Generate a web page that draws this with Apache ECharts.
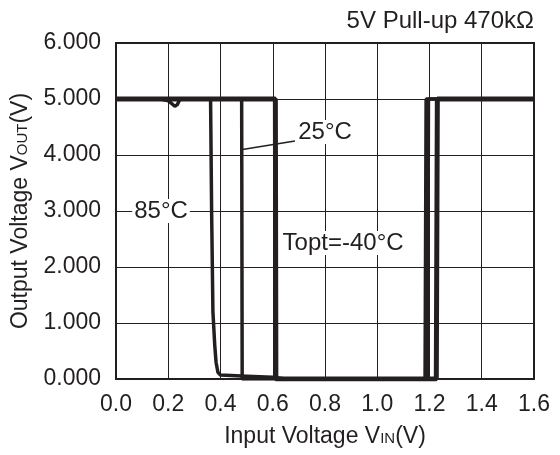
<!DOCTYPE html>
<html><head><meta charset="utf-8">
<script src="https://cdn.jsdelivr.net/npm/echarts@6/dist/echarts.min.js"></script>
<style>html,body{margin:0;padding:0;background:#fff}#c{width:560px;height:455px}</style>
</head><body><div id="c"></div>
<script>
// ---- data ----
const xTickValues = [0.0, 0.2, 0.4, 0.6, 0.8, 1.0, 1.2, 1.4, 1.6];
const yTickValues = [0, 1, 2, 3, 4, 5, 6];
// Output voltage vs input voltage, [VIN, VOUT]
const curve85 = [[0,5],[0.17,5],[0.2,4.97],[0.225,4.87],[0.235,4.9],[0.245,5],[0.362,5],[0.366,3],[0.371,1.2],[0.378,0.6],[0.383,0.3],[0.39,0.12],[0.4,0.07],[0.5,0.05],[0.6,0.03],[0.65,0],[1.183,0],[1.187,5],[1.6,5]];
const curve25 = [[0,5],[0.481,5],[0.483,0],[1.193,0],[1.196,5],[1.6,5]];
const curveM40 = [[0,5],[0.61,5],[0.612,0],[1.226,0],[1.23,5],[1.6,5]];
const seriesNames = ['85°C','25°C','Topt=-40°C'];
const titleText = '5V Pull-up 470kΩ';

const INK = '#231f20';
const FONT = '"Liberation Sans", Arial, sans-serif';

const chart = echarts.init(document.getElementById('c'), null, {renderer:'canvas'});
const option = {
  animation: false,
  backgroundColor: '#fff',
  textStyle: {fontFamily: FONT},
  grid: {left:116, right:26, top:43, bottom:76, show:true, borderColor:INK, borderWidth:2, containLabel:false},
  xAxis: {
    type:'value', min:0, max:1.6, interval:0.2,
    name:'Input Voltage V{s|IN}(V)', nameLocation:'middle', nameGap:46,
    nameTextStyle:{fontSize:23, color:INK, fontFamily:FONT, rich:{s:{fontSize:15, color:INK, fontFamily:FONT, padding:[4,0,0,0]}}},
    axisLine:{show:true, lineStyle:{color:INK, width:2}},
    axisTick:{show:false},
    axisLabel:{fontSize:23, color:INK, margin:14, formatter:v=>v.toFixed(1)},
    splitLine:{show:true, lineStyle:{color:INK, width:1}}
  },
  yAxis: {
    type:'value', min:0, max:6, interval:1,
    name:'Output Voltage V{s|OUT}(V)', nameLocation:'middle', nameGap:84, nameRotate:90,
    nameTextStyle:{fontSize:23, color:INK, fontFamily:FONT, rich:{s:{fontSize:15, color:INK, fontFamily:FONT, padding:[4,0,0,0]}}},
    axisLine:{show:true, lineStyle:{color:INK, width:2}},
    axisTick:{show:false},
    axisLabel:{fontSize:23, color:INK, margin:15, formatter:v=>v.toFixed(3)},
    splitLine:{show:true, lineStyle:{color:INK, width:1}}
  },
  series: [
    {name:seriesNames[0], type:'line', data:curve85, showSymbol:false, symbol:'none', lineStyle:{color:INK, width:3.5}, z:3},
    {name:seriesNames[1], type:'line', data:curve25, showSymbol:false, symbol:'none', lineStyle:{color:INK, width:3.5}, z:3},
    {name:seriesNames[2], type:'line', data:curveM40, showSymbol:false, symbol:'none', lineStyle:{color:INK, width:5}, z:3}
  ]
};
chart.setOption(option);

// annotation anchors (in data coordinates)
const px = p => chart.convertToPixel({gridIndex:0}, p);
const lead25a = px([0.484, 4.1]);
const lead25b = px([0.685, 4.25]);
const t25 = px([0.69, 4.41]);
const t85 = px([0.062, 3.0]);
const tM40 = px([0.63, 2.43]);
const txt = (text, pos, bg) => ({type:'text', x:pos[0], y:pos[1], z:10,
  style:{text:text, fill:INK, font:'24px ' + FONT, textVerticalAlign:'middle', verticalAlign:'middle',
    backgroundColor: bg ? '#fff' : null, padding: bg ? [0,2] : 0}});
chart.setOption({graphic:[
  {type:'line', z:9, shape:{x1:lead25a[0], y1:lead25a[1], x2:lead25b[0], y2:lead25b[1]}, style:{stroke:INK, lineWidth:1.5}},
  txt(seriesNames[1], t25, true),
  txt(seriesNames[0], t85, true),
  txt(seriesNames[2], tM40, true),
  {type:'text', right:26, top:9, z:10, style:{text:titleText, fill:INK, font:'24px ' + FONT}}
]});
</script></body></html>
